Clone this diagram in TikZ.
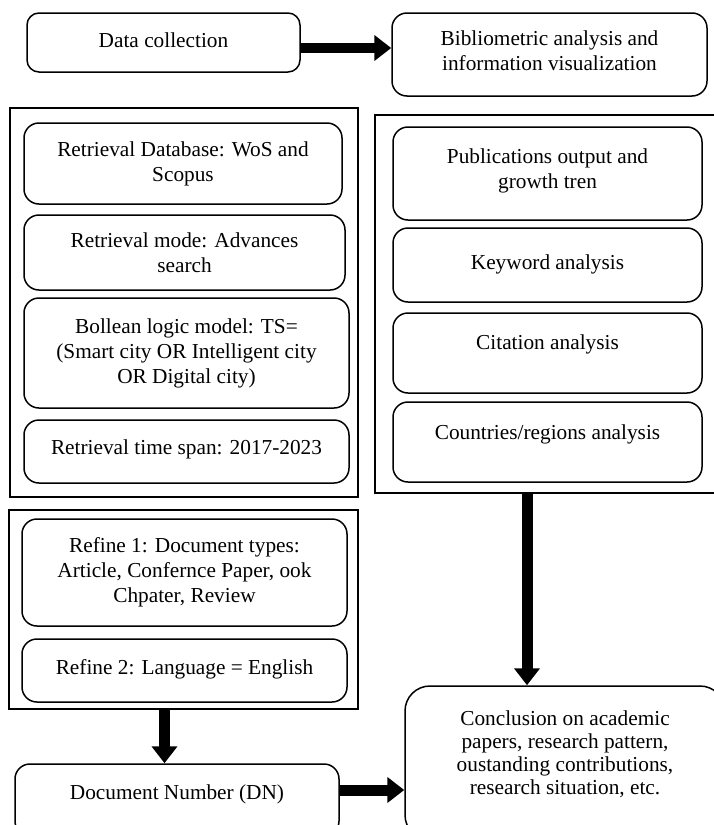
\documentclass[tikz,border=0pt]{standalone}
\usepackage{fontspec}
\setmainfont{Liberation Serif}
\usetikzlibrary{arrows.meta,calc}
\begin{document}
\begin{tikzpicture}[x=1pt,y=-1pt,
  rbox/.style={draw=black,line width=1.5pt,rounded corners=15pt,align=center,inner sep=0pt,
    font=\fontsize{21.3}{25}\selectfont},
  frame/.style={draw=black,line width=1.7pt,inner sep=0pt},
  bigarrow/.style={line width=11pt,-{Triangle[width=25pt,length=17pt]}},
  up/.style={text depth=#1}
]
\useasboundingbox (0,0) rectangle (713,825);
% top row
\node[rbox,rounded corners=12pt,minimum width=273pt,minimum height=59pt,up=5pt] (dc) at (163.5,42.5) {Data collection};
\node[rbox,minimum width=315pt,minimum height=83pt,up=8pt] (bib) at (549.5,54.5) {Bibliometric analysis and\\information visualization};
% left frame 1
\node[frame,minimum width=348pt,minimum height=389pt] (lb1) at (184,302.5) {};
\node[rbox,minimum width=318pt,minimum height=81pt] (b1) at (183,163.5) {Retrieval Database: WoS and\\Scopus};
\node[rbox,minimum width=321pt,minimum height=75pt] (b2) at (184.5,252.5) {Retrieval mode: Advances\\search};
\node[rbox,minimum width=325pt,minimum height=110pt] (b3) at (186.5,353) {Bollean logic model: TS=\\(Smart city OR Intelligent city\\OR Digital city)};
\node[rbox,minimum width=325pt,minimum height=63pt,up=9pt] (b4) at (186.5,451.5) {Retrieval time span: 2017-2023};
% right frame
\node[frame,minimum width=341pt,minimum height=378pt] (rb) at (545.5,304) {};
\node[rbox,minimum width=309pt,minimum height=93pt,up=10pt] (p1) at (547.5,173.5) {Publications output and\\growth tren};
\node[rbox,minimum width=309pt,minimum height=74pt,up=6pt] (p2) at (547.5,265) {Keyword analysis};
\node[rbox,minimum width=309pt,minimum height=80pt,up=21pt] (p3) at (547.5,353) {Citation analysis};
\node[rbox,minimum width=309pt,minimum height=80pt,up=19pt] (p4) at (547.5,442) {Countries/regions analysis};
% left frame 2
\node[frame,minimum width=349pt,minimum height=199pt] (lb2) at (183.5,609.5) {};
\node[rbox,minimum width=325pt,minimum height=107pt] (r1) at (184.5,572.5) {Refine 1: Document types:\\Article, Confernce Paper, ook\\Chpater, Review};
\node[rbox,minimum width=325pt,minimum height=63pt,up=8pt] (r2) at (184.5,670.5) {Refine 2: Language = English};
% bottom row
\node[rbox,minimum width=324pt,minimum height=72pt,up=15pt] (dn) at (177,800) {Document Number (DN)};
\node[rbox,rounded corners=25pt,minimum width=320pt,minimum height=154pt,up=20pt,
  font=\fontsize{21.3}{23}\selectfont] (conc) at (565,763) {Conclusion on academic\\papers, research pattern,\\oustanding contributions,\\research situation, etc.};
% arrows
\draw[bigarrow,line width=10pt] ([yshift=-5.5pt]dc.east) -- ([yshift=-5.5pt]dc.east -| bib.west);
\draw[bigarrow] ([xshift=-19pt]lb2.south) -- ([xshift=-19pt]lb2.south |- dn.north);
\draw[bigarrow] ([xshift=-18.5pt]rb.south) -- ([xshift=-18.5pt]rb.south |- conc.north);
\draw[bigarrow] ([yshift=10pt]dn.east) -- ([yshift=10pt]dn.east -| conc.west);
\end{tikzpicture}
\end{document}
